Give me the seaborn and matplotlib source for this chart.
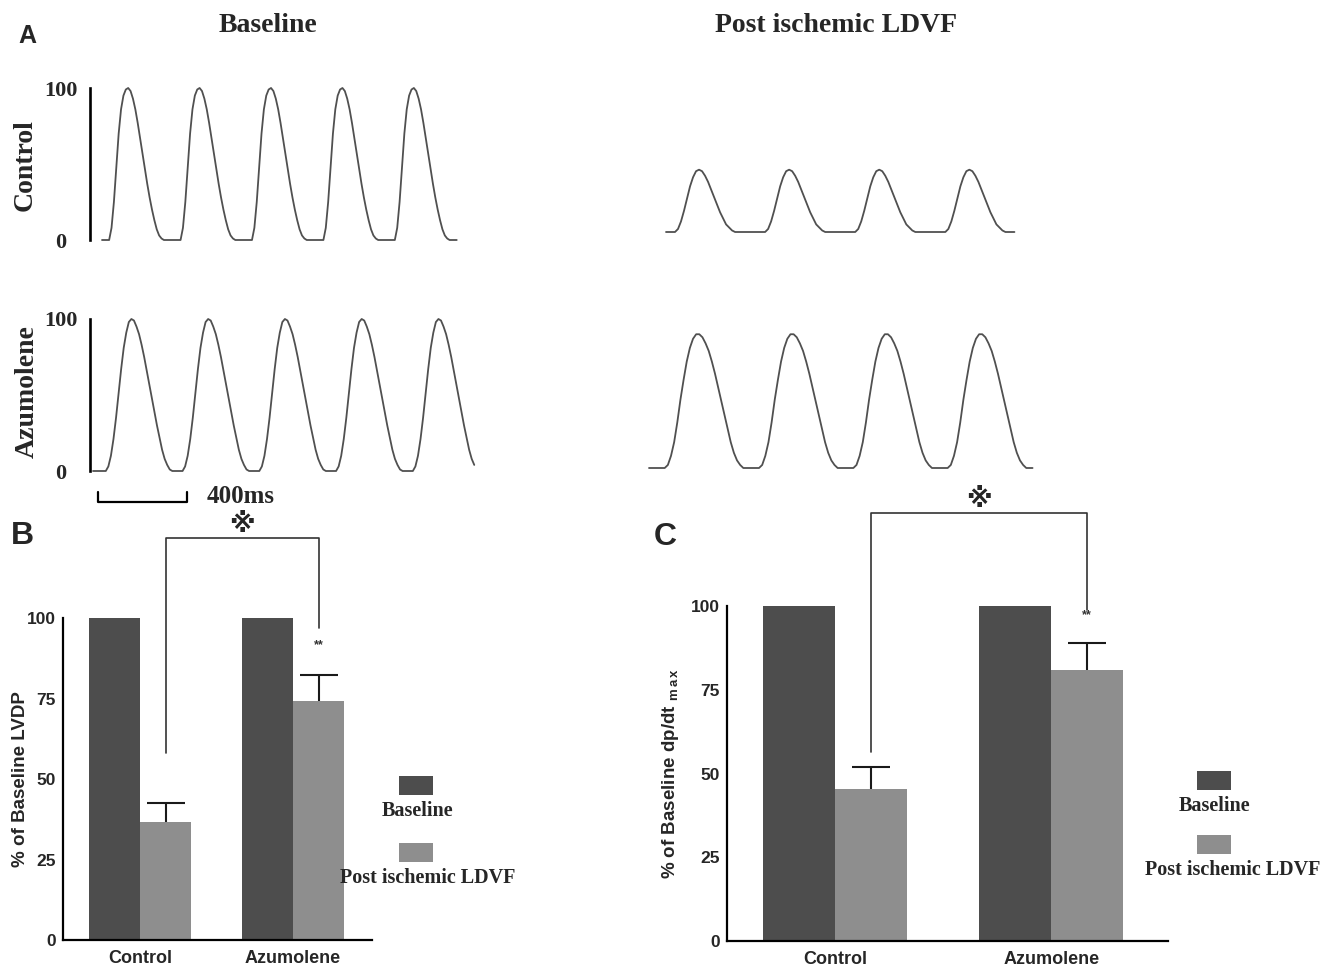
import numpy as np
import pandas as pd
import matplotlib
matplotlib.use("Agg")
import matplotlib.pyplot as plt
import seaborn as sns
from matplotlib.patches import Rectangle

# ---- panel A: pressure traces (% of baseline LVDP), one beat ----
MS_PER_PX = 400 / 89          # scale bar: 400 ms over 89 px
SCALE_BAR_MS = 400

ctrl_base_beat = [0, 8, 25, 48, 70, 86, 95, 99, 100, 98, 93, 86, 77, 67, 57, 47, 37, 28, 20, 13,
                  7, 3, 1, 0, 0, 0, 0, 0, 0, 0]
ctrl_base_lead = [0, 0, 0]
ctrl_base_step = 10.7

azu_base_beat = [0, 3, 10, 21, 35, 51, 67, 81, 91, 98, 100, 99, 95, 90, 83, 75, 66, 57, 48, 39,
                 30, 22, 14, 8, 4, 1, 0, 0, 0, 0]
azu_base_lead = [0, 0, 0, 0, 0]
azu_base_step = 11.5

ctrl_post_beat = [0, 2, 7, 14, 22, 30, 36, 40, 41, 40, 37, 33, 28, 23, 18, 13, 9, 5, 3, 1,
                  0, 0, 0, 0, 0, 0, 0, 0, 0, 0]
ctrl_post_lead = [0, 0, 0]
ctrl_post_step = 13.5

azu_post_beat = [0, 2, 8, 17, 30, 45, 58, 70, 79, 85, 88, 88, 86, 82, 77, 70, 62, 53, 44, 35,
                 26, 17, 10, 5, 2, 0, 0, 0, 0, 0]
azu_post_lead = [0, 0, 0, 0, 0]
azu_post_step = 14.13

# ---- panels B and C ----
groups = ["Control", "Azumolene"]
conditions = ["Baseline", "Post ischemic LDVF"]
lvdp_baseline = [100, 100]
lvdp_post = [36.6, 74.2]
lvdp_post_sem = [5.9, 8.1]
dpdt_baseline = [100, 100]
dpdt_post = [45.4, 80.9]
dpdt_post_sem = [6.6, 8.1]
y_ticks = [0, 25, 50, 75, 100]

DARK = "#4d4d4d"
LIGHT = "#8e8e8e"
TRACE = "#505050"
SERIF = ["Liberation Serif", "DejaVu Serif"]
SYMBOL = ["DejaVu Sans", "Noto Sans CJK SC"]

W, H = 1338, 971


def px_axes(fig, left, top, width, height):
    """add axes using pixel coords measured from the top-left corner"""
    return fig.add_axes([left / W, 1 - (top + height) / H, width / W, height / H])


def build_trace(lead, beat, n_beats, n_last):
    vals = list(lead) + list(beat) * (n_beats - 1) + list(beat[:n_last])
    return np.array(vals, dtype=float)


def draw_trace(fig, left, zero_y, values, step, spine_px=None):
    ax = px_axes(fig, left, zero_y - 152, 420, 152)
    t = np.arange(len(values)) * step
    ax.plot(t, values, color=TRACE, lw=1.3, clip_on=False)
    ax.set_xlim(0, 420 * MS_PER_PX)
    ax.set_ylim(0, 100)
    ax.patch.set_visible(False)
    for s in ["top", "right", "bottom"]:
        ax.spines[s].set_visible(False)
    ax.set_xticks([])
    if spine_px is None:
        ax.spines["left"].set_visible(False)
        ax.set_yticks([])
    else:
        ax.spines["left"].set_position(("outward", spine_px * 0.72))
        ax.spines["left"].set_linewidth(1.9)
        ax.spines["left"].set_color("black")
        ax.set_yticks([0, 100], labels=["0", "100"])
        ax.tick_params(axis="y", length=0, pad=21)
        for lab in ax.get_yticklabels():
            lab.set_fontfamily(SERIF)
            lab.set_fontweight("bold")
            lab.set_fontsize(16)
            lab.set_horizontalalignment("center")
    return ax


def draw_bars(fig, rect, baseline, post, sem, ylabel, bracket, star_y, xlim, labelx):
    ax = px_axes(fig, *rect)
    df = pd.DataFrame({
        "group": groups * 2,
        "condition": [conditions[0]] * 2 + [conditions[1]] * 2,
        "value": list(baseline) + list(post),
    })
    sns.barplot(data=df, x="group", y="value", hue="condition", order=groups,
                hue_order=conditions, palette=[DARK, LIGHT], width=0.667,
                saturation=1, errorbar=None, legend=False, linewidth=0, ax=ax)
    post_bars = ax.containers[1]
    xs = [b.get_x() + b.get_width() / 2 for b in post_bars]
    # one-sided (upper) error bars
    eb = ax.errorbar(xs, post, yerr=[np.zeros(len(sem)), sem], fmt="none", ecolor="#1a1a1a",
                     elinewidth=1.5, capsize=13.5, capthick=1.5, zorder=3)
    eb[1][0].set_visible(False)

    # significance bracket between the two post-ischemic bars
    y_left, y_top, y_right = bracket
    ax.plot([xs[0], xs[0], xs[1], xs[1]], [y_left, y_top, y_top, y_right],
            color="#333333", lw=1.2, clip_on=False)
    ax.annotate("\u203b", xy=((xs[0] + xs[1]) / 2, y_top), xytext=(0, 9),
                textcoords="offset points", ha="center", va="center",
                fontsize=19, fontfamily=SYMBOL, fontweight="bold", annotation_clip=False)
    ax.text(xs[1], star_y, "**", ha="center", va="center", fontsize=9, color="#333333",
            fontweight="bold")

    ax.set_xlim(*xlim)
    ax.set_ylim(0, 100)
    ax.set_yticks(y_ticks)
    ax.set_xlabel("")
    ax.set_ylabel(ylabel, fontsize=13.5, fontweight="bold")
    ax.yaxis.set_label_coords(labelx, 0.5)
    sns.despine(ax=ax)
    for s in ["left", "bottom"]:
        ax.spines[s].set_linewidth(1.6)
        ax.spines[s].set_color("black")
    ax.tick_params(axis="y", length=4, width=1.5, labelsize=12.5, pad=1)
    ax.tick_params(axis="x", length=5, width=1.5, labelsize=13, pad=2)
    for lab in ax.get_xticklabels() + ax.get_yticklabels():
        lab.set_fontweight("bold")
    return ax


def legend_block(fig, x, y_dark, y_light, text_dx):
    for y, col, label, dx in [(y_dark, DARK, conditions[0], text_dx[0]),
                              (y_light, LIGHT, conditions[1], text_dx[1])]:
        fig.add_artist(Rectangle((x / W, 1 - (y + 19) / H), 34 / W, 19 / H,
                                 transform=fig.transFigure, facecolor=col, edgecolor="none"))
        fig.text((x + dx) / W, 1 - (y + 35) / H, label, ha="center", va="center",
                 fontsize=14.5, fontweight="bold", fontfamily=SERIF)


sns.set_style("white")
plt.rcParams["font.family"] = ["Liberation Sans", "DejaVu Sans"]
plt.rcParams["mathtext.fontset"] = "custom"
plt.rcParams["mathtext.rm"] = "Liberation Sans:bold"

fig = plt.figure(figsize=(13.38, 9.71), dpi=100)

# ---- A ----
draw_trace(fig, 102, 240, build_trace(ctrl_base_lead, ctrl_base_beat, 5, 27), ctrl_base_step, spine_px=12)
ax_azu = draw_trace(fig, 93, 471, build_trace(azu_base_lead, azu_base_beat, 5, 25), azu_base_step, spine_px=3)
draw_trace(fig, 666, 232, build_trace(ctrl_post_lead, ctrl_post_beat, 4, 24), ctrl_post_step)
draw_trace(fig, 649, 468, build_trace(azu_post_lead, azu_post_beat, 4, 28), azu_post_step)

# 400 ms scale bar under the azumolene baseline trace
x0 = 5 * MS_PER_PX
ax_azu.plot([x0, x0, x0 + SCALE_BAR_MS, x0 + SCALE_BAR_MS], [-14, -20.5, -20.5, -14],
            color="black", lw=1.6, clip_on=False)
ax_azu.text(x0 + SCALE_BAR_MS + 20 * MS_PER_PX, -17, "400ms", ha="left", va="center",
            fontsize=18, fontweight="bold", fontfamily=SERIF)

fig.text(27 / W, 1 - 36 / H, "A", fontsize=18, fontweight="bold", ha="center", va="center")
fig.text(268 / W, 1 - 25 / H, "Baseline", fontsize=20, fontweight="bold",
         fontfamily=SERIF, ha="center", va="center")
fig.text(836 / W, 1 - 25 / H, "Post ischemic LDVF", fontsize=20, fontweight="bold",
         fontfamily=SERIF, ha="center", va="center")
fig.text(25 / W, 1 - 165 / H, "Control", fontsize=20, fontweight="bold",
         fontfamily=SERIF, rotation=90, ha="center", va="center")
fig.text(27 / W, 1 - 392 / H, "Azumolene", fontsize=20, fontweight="bold",
         fontfamily=SERIF, rotation=90, ha="center", va="center")

# ---- B ----
draw_bars(fig, (63, 618, 309, 322), lvdp_baseline, lvdp_post, lvdp_post_sem,
          "% of Baseline LVDP", (58, 125, 97), 91.6, (-0.503, 1.516), -0.11)
fig.text(22 / W, 1 - 536 / H, "B", fontsize=23, fontweight="bold", ha="center", va="center")
legend_block(fig, 399, 776, 843, (19, 29))

# ---- C ----
draw_bars(fig, (727, 606, 441, 335), dpdt_baseline, dpdt_post, dpdt_post_sem,
          r"% of Baseline dp/dt $_{\rm m\,a\,x}$", (56.4, 127.8, 98.8), 97.3,
          (-0.5, 1.54), -0.105)
fig.text(665 / W, 1 - 537 / H, "C", fontsize=23, fontweight="bold", ha="center", va="center")
legend_block(fig, 1197, 771, 835, (18, 36))

fig.savefig("out.png", dpi=100, facecolor="white")
